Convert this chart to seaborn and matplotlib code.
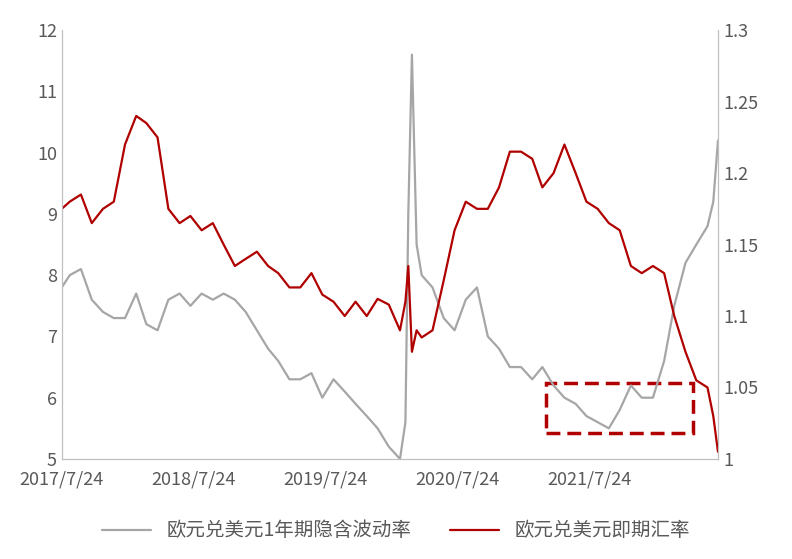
import matplotlib
matplotlib.use("Agg")
import matplotlib.pyplot as plt
import matplotlib.dates as mdates
import matplotlib.patches as mpatches
import seaborn as sns
import pandas as pd

dates = ["2017-07-24","2017-08-15","2017-09-15","2017-10-15","2017-11-15","2017-12-15",
 "2018-01-15","2018-02-15","2018-03-15","2018-04-15","2018-05-15","2018-06-15","2018-07-15",
 "2018-08-15","2018-09-15","2018-10-15","2018-11-15","2018-12-15","2019-01-15","2019-02-15",
 "2019-03-15","2019-04-15","2019-05-15","2019-06-15","2019-07-15","2019-08-15","2019-09-15",
 "2019-10-15","2019-11-15","2019-12-15","2020-01-15","2020-02-15","2020-03-01","2020-03-09",
 "2020-03-19","2020-04-01","2020-04-15","2020-05-15","2020-06-15","2020-07-15","2020-08-15",
 "2020-09-15","2020-10-15","2020-11-15","2020-12-15","2021-01-15","2021-02-15","2021-03-15",
 "2021-04-15","2021-05-15","2021-06-15","2021-07-15","2021-08-15","2021-09-15","2021-10-15",
 "2021-11-15","2021-12-15","2022-01-15","2022-02-15","2022-03-15","2022-04-15","2022-05-15",
 "2022-06-15","2022-07-01","2022-07-14"]
vol = [7.8,8.0,8.1,7.6,7.4,7.3,7.3,7.7,7.2,7.1,7.6,7.7,7.5,7.7,7.6,7.7,7.6,7.4,7.1,6.8,
 6.6,6.3,6.3,6.4,6.0,6.3,6.1,5.9,5.7,5.5,5.2,5.0,5.6,9.0,11.6,8.5,8.0,7.8,7.3,7.1,7.6,
 7.8,7.0,6.8,6.5,6.5,6.3,6.5,6.2,6.0,5.9,5.7,5.6,5.5,5.8,6.2,6.0,6.0,6.6,7.5,8.2,8.5,
 8.8,9.2,10.2]
fx = [1.175,1.18,1.185,1.165,1.175,1.180,1.220,1.240,1.235,1.225,1.175,1.165,1.170,1.160,
 1.165,1.150,1.135,1.140,1.145,1.135,1.130,1.120,1.120,1.130,1.115,1.110,1.100,1.110,1.100,
 1.112,1.108,1.090,1.110,1.135,1.075,1.090,1.085,1.090,1.125,1.160,1.180,1.175,1.175,1.190,
 1.215,1.215,1.210,1.190,1.200,1.220,1.200,1.180,1.175,1.165,1.160,1.135,1.130,1.135,1.130,
 1.100,1.075,1.055,1.050,1.030,1.005]
ticks = ["2017/7/24","2018/7/24","2019/7/24","2020/7/24","2021/7/24"]
df = pd.DataFrame({"date": pd.to_datetime(dates), "vol": vol, "fx": fx})

sns.set_style("white")
plt.rcParams['font.family'] = ['Noto Sans CJK SC', 'DejaVu Sans']
fig = plt.figure(figsize=(7.92, 5.59), dpi=100)
ax = fig.add_axes([0.078, 0.179, 0.829, 0.767])
ax2 = ax.twinx()
sns.lineplot(data=df, x="date", y="vol", ax=ax, color="#a6a6a6", lw=1.6, label="欧元兑美元1年期隐含波动率", legend=False)
sns.lineplot(data=df, x="date", y="fx", ax=ax2, color="#b00000", lw=1.6, label="欧元兑美元即期汇率", legend=False)
ax.set_ylim(5, 12); ax2.set_ylim(1, 1.3)
ax.set_yticks(range(5, 13)); ax2.set_yticks([1, 1.05, 1.1, 1.15, 1.2, 1.25, 1.3])
ax2.set_yticklabels(["1", "1.05", "1.1", "1.15", "1.2", "1.25", "1.3"])
ax.set_xlim(pd.Timestamp("2017-07-24"), pd.Timestamp("2022-07-15"))
ax.set_xticks(pd.to_datetime([t.replace("/", "-") for t in ticks]))
ax.set_xticklabels(ticks)
for a in (ax, ax2):
    a.set_xlabel(""); a.set_ylabel("")
    a.tick_params(labelsize=13, colors="#595959", length=0)
    a.spines["top"].set_visible(False)
    for s in ("left", "right", "bottom"):
        a.spines[s].set_color("#bfbfbf")
ax.tick_params(axis="x", pad=8)
rect = mpatches.Rectangle((mdates.date2num(pd.Timestamp("2021-03-26")), 5.42),
                          mdates.date2num(pd.Timestamp("2022-05-05")) - mdates.date2num(pd.Timestamp("2021-03-26")),
                          0.82, fill=False, ec="#b00000", lw=2.5, ls=(0, (4, 2)))
ax.add_patch(rect)
h1, l1 = ax.get_legend_handles_labels(); h2, l2 = ax2.get_legend_handles_labels()
fig.legend(h1 + h2, l1 + l2, loc="lower center", ncol=2, frameon=False, fontsize=14,
           bbox_to_anchor=(0.5, 0.0), handlelength=2.5, columnspacing=2,
           labelcolor="#595959")
fig.savefig("out.png", dpi=100)
